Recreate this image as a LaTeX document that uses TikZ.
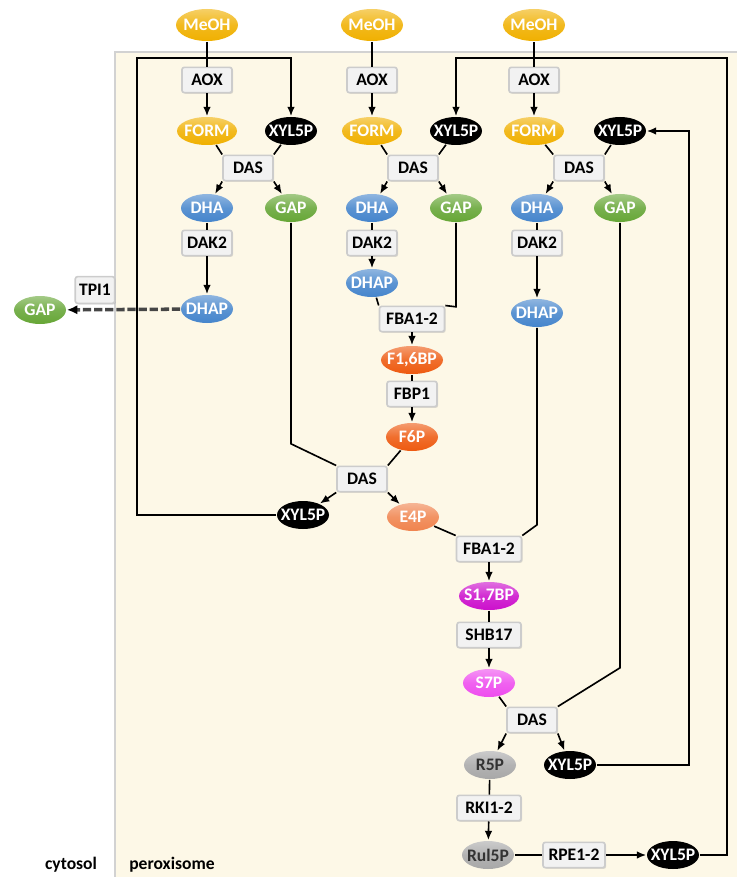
\documentclass[tikz,border=0pt]{standalone}
\usepackage{fontspec}
\setmainfont{Carlito}
\usepackage{xcolor}
\usepackage{tikz}
\usetikzlibrary{shapes.geometric,shadows,arrows.meta}

\definecolor{meohcol}{HTML}{F0B000}
\definecolor{dhacol}{HTML}{4585CC}
\definecolor{gapcol}{HTML}{66A636}
\definecolor{fbpcol}{HTML}{EE5A10}
\definecolor{e4pcol}{HTML}{F0844E}
\definecolor{sbpcol}{HTML}{CC10CC}
\definecolor{s7pcol}{HTML}{EE4CEE}
\definecolor{rpcol}{HTML}{A8A8A8}
\definecolor{perox}{HTML}{FDF8E7}

\begin{document}
\begin{tikzpicture}[x=0.03cm, y=-0.03cm,
    font=\fontsize{15pt}{18pt}\selectfont\bfseries,
    met/.style={ellipse, inner sep=0pt, minimum width=1.56cm, minimum height=0.84cm, text=white,
        execute at begin node=\hbox to 0pt\bgroup\hss,
        execute at end node=\hss\egroup},
    mfill/.style={met, top color=#1!60!white, bottom color=#1, middle color=#1!88!white},
    enz/.style={rectangle, rounded corners=2pt, fill=gray!10, draw=gray!40,
        minimum width=1.5cm, minimum height=0.76cm,
        drop shadow={opacity=0.25, shadow xshift=1pt, shadow yshift=-1pt}},
    meoh/.style={mfill=meohcol},
    dha/.style={mfill=dhacol},
    gap/.style={mfill=gapcol},
    xyl/.style={met, fill=black},
    arr/.style={-{Latex[length=8pt, width=6.5pt]}},
    every path/.style={line width=1.4pt}]
    \useasboundingbox (0,0) rectangle (737,877);
    % Compartments
    \fill[perox] (115,52) rectangle (737,877);
    \draw[gray!35, line width=1pt] (115,877) -- (115,52) -- (737,52);
    \node (cyto) at (71,865) {cytosol};
    \node (pero) at (172,865) {peroxisome};

    % Nodes
    \node[meoh, minimum width=1.86cm, minimum height=0.96cm] (meoh1) at (207,25) {MeOH};
    \node[meoh, minimum width=1.86cm, minimum height=0.96cm] (meoh2) at (372,25) {MeOH};
    \node[meoh, minimum width=1.86cm, minimum height=0.96cm] (meoh3) at (534,25) {MeOH};
    \node[enz] (aox1) at (207,80) {AOX};
    \node[enz] (aox2) at (372,80) {AOX};
    \node[enz] (aox3) at (534,80) {AOX};
    \node[meoh, minimum width=1.8cm] (form1) at (207,131) {FORM};
    \node[meoh, minimum width=1.8cm] (form2) at (372,131) {FORM};
    \node[meoh, minimum width=1.8cm] (form3) at (534,131) {FORM};
    \node[xyl] (xyl1) at (291,131) {XYL5P};
    \node[xyl] (xyl2) at (456,131) {XYL5P};
    \node[xyl] (xyl3) at (620,131) {XYL5P};
    \node[enz] (das1) at (248,168) {DAS};
    \node[enz] (das2) at (413,168) {DAS};
    \node[enz] (das3) at (579,168) {DAS};
    \node[dha] (dha1) at (207,208) {DHA};
    \node[dha] (dha2) at (372,208) {DHA};
    \node[dha] (dha3) at (537,208) {DHA};
    \node[gap] (gap1) at (291,208) {GAP};
    \node[gap] (gap2) at (456,208) {GAP};
    \node[gap] (gap3) at (620,208) {GAP};
    \node[enz] (dak1) at (207,243) {DAK2};
    \node[enz] (dak2) at (372,243) {DAK2};
    \node[enz] (dak3) at (537,243) {DAK2};
    \node[dha] (dhap1) at (207,309) {DHAP};
    \node[dha] (dhap2) at (372,283) {DHAP};
    \node[dha] (dhap3) at (537,313) {DHAP};
    \node[enz, minimum width=0.96cm, minimum height=0.8cm] (tpi) at (95,290) {TPI1};
    \node[gap] (gapc) at (40,310) {GAP};
    \node[enz, minimum width=1.95cm] (fba1) at (412,319) {FBA1-2};
    \node[mfill=fbpcol, minimum width=1.86cm] (f16bp) at (412,360) {F1,6BP};
    \node[enz] (fbp) at (412,394) {FBP1};
    \node[mfill=fbpcol] (f6p) at (412,437) {F6P};
    \node[enz] (das4) at (362,479) {DAS};
    \node[xyl] (xyl4) at (303,515) {XYL5P};
    \node[mfill=e4pcol] (e4p) at (413,517) {E4P};
    \node[enz, minimum width=1.95cm] (fba2) at (489,549) {FBA1-2};
    \node[mfill=sbpcol, minimum width=1.8cm] (s17bp) at (489,596) {S1,7BP};
    \node[enz, minimum width=1.92cm] (shb) at (489,635) {SHB17};
    \node[mfill=s7pcol] (s7p) at (489,683) {S7P};
    \node[enz] (das5) at (532,720) {DAS};
    \node[mfill=rpcol, text=black!80] (r5p) at (490,765) {R5P};
    \node[xyl] (xyl5) at (570,765) {XYL5P};
    \node[enz, minimum width=1.92cm] (rki) at (489,808) {RKI1-2};
    \node[mfill=rpcol, text=black!80] (ru5p) at (488,855) {Rul5P};
    \node[enz, minimum width=1.86cm] (rpe) at (574,855) {RPE1-2};
    \node[xyl] (xyl6) at (673,855) {XYL5P};
    \coordinate (lt) at (137,58);
    \coordinate (rt) at (727,58);
    \coordinate (rm) at (689,0);

    % Edges
    \foreach \i in {1,2,3} {
        \draw (meoh\i) -- (aox\i);
        \draw[arr] (aox\i) -- (form\i);
        \draw (form\i) -- (das\i.north west);
        \draw (xyl\i) -- (das\i.north east);
        \draw[arr] (das\i.south west) -- (dha\i);
        \draw[arr] (das\i.south east) -- (gap\i);
        \draw (dha\i) -- (dak\i);
        \draw[arr] (dak\i) -- (dhap\i);
    }
    \draw[line width=3pt, gray!55!black, dash pattern=on 7pt off 2.5pt,
        -{Latex[length=9pt, width=8pt, color=black]}] (dhap1) -- (gapc);
    \draw (dhap2) -- (fba1.north west);
    \draw (gap2.south) -- ++(0,84) -- (fba1.north east);
    \draw[arr] (fba1) -- (f16bp);
    \draw (f16bp) -- (fbp);
    \draw[arr] (fbp) -- (f6p);
    \draw (f6p) -- (das4.north east);
    \draw (gap1.south) -- ++(0,221) -- (das4.north west);
    \draw[arr] (das4.south west) -- (xyl4);
    \draw[arr] (das4.south east) -- (e4p);
    \draw[arr] (xyl4.west) -| (lt) -| (xyl1.north);
    \draw (e4p) -- (fba2.north west);
    \draw (dhap3.south) -- ++(0,197) -- (fba2.north east);
    \draw[arr] (fba2) -- (s17bp);
    \draw (s17bp) -- (shb);
    \draw[arr] (shb) -- (s7p);
    \draw (s7p) -- (das5.north west);
    \draw (gap3.south) -- ++(0,445) -- (das5.north east);
    \draw[arr] (das5.south west) -- (r5p);
    \draw[arr] (das5.south east) -- (xyl5);
    \draw[arr] (xyl5.east) -| (xyl3.east -| rm) -- (xyl3.east);
    \draw (r5p) -- (rki);
    \draw[arr] (rki) -- (ru5p);
    \draw (ru5p) -- (rpe);
    \draw[arr] (rpe) -- (xyl6);
    \draw[arr] (xyl6.east) -| (rt) -| (xyl2.north);
\end{tikzpicture}
\end{document}
